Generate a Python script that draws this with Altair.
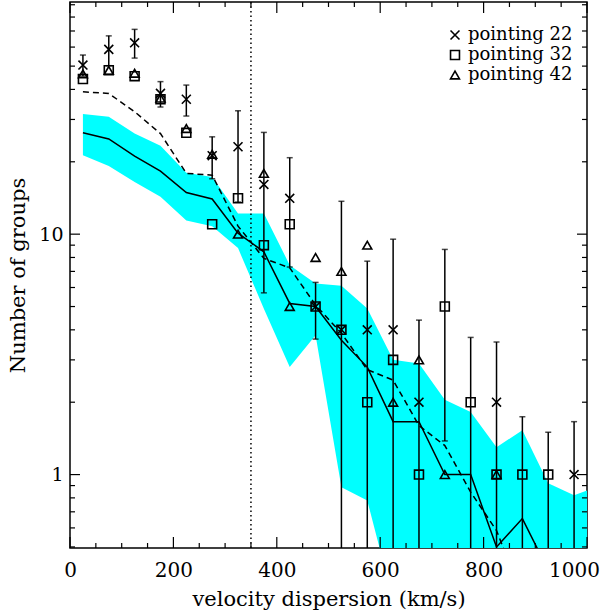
import altair as alt
import pandas as pd

# ---------------- data ----------------
bins = [25, 75, 125, 175, 225, 275, 325, 375, 425, 475,
        525, 575, 625, 675, 725, 775, 825, 875, 925, 975]

# pointing 22 (x markers)
p22_x = [25, 75, 125, 175, 225, 275, 325, 375, 425, 475, 525, 575, 625, 675, 825, 975]
p22_y = [50.5, 58.7, 62.5, 38.5, 36.4, 21.2, 23.1, 16.1, 14.1, 5, 4, 4, 4, 2, 2, 1]

# pointing 32 (squares)
p32_x = [25, 75, 125, 175, 225, 275, 325, 375, 425, 475, 525, 575, 625, 675, 725, 775, 825, 875, 925]
p32_y = [44.2, 48.1, 45.4, 36.4, 26.4, 11.0, 14.1, 9.0, 11.0, 5, 4, 2, 3, 1, 5, 2, 1, 1, 1]

# pointing 42 (triangles)
p42_x = [25, 75, 125, 175, 225, 275, 325, 375, 425, 475, 525, 575, 625, 675, 725, 825]
p42_y = [46.4, 48.0, 46.7, 36.8, 27.5, 21.5, 10.0, 17.9, 5.0, 8.0, 7.0, 9.0, 2.0, 3.0, 1.0, 1.0]

# error bars (one per bin)
err_lo = [45.4, 50.2, 54.0, 33.8, 31.0, 17.0, 13.6, 5.7, 7.3, 3.66,
          0.3, 0.3, 0.3, 0.3, 1.38, 0.3, 0.45, 0.3, 0.45, 0.34]
err_hi = [55.6, 66.8, 71.1, 43.1, 41.7, 25.4, 32.6, 26.5, 20.8, 6.3,
          13.7, 7.72, 9.53, 4.39, 8.64, 3.72, 3.56, 1.74, 1.50, 1.66]

# cyan band
band_x = bins + [1025]
band_hi = [31.6, 30.8, 26.2, 23.3, 18.0, 17.3, 12.2, 12.2, 7.43, 6.24,
           6.1, 4.91, 3.0, 2.9, 2.05, 1.82, 1.3, 1.53, 0.92, 0.82, 0.9]
band_lo = [21.3, 19.2, 16.5, 14.3, 11.4, 10.8, 8.75, 4.9, 2.8, 3.8,
           0.885, 0.78, 0.3, 0.3, 0.3, 0.3, 0.3, 0.3, 0.3, 0.3, 0.3]

# solid line
solid_x = bins[:19]
solid_y = [26.4, 24.9, 21.1, 18.3, 14.9, 14.0, 10.1, 8.44, 5.15, 5.0,
           3.62, 2.8, 1.66, 1.66, 1.0, 1.0, 0.5, 0.656, 0.40]

# dashed line
dashed_x = bins[:18]
dashed_y = [39.1, 38.5, 32.3, 26.2, 17.9, 17.6, 10.8, 7.93, 7.24, 5.07,
            3.87, 2.73, 2.47, 1.6, 1.32, 0.845, 0.585, 0.31]

vline_x = [350]

x_major = [0, 200, 400, 600, 800, 1000]
x_minor = [v for v in range(50, 1000, 50) if v % 200 != 0]
y_major = [1, 10]
y_minor = [0.5, 0.6, 0.7, 0.8, 0.9, 2, 3, 4, 5, 6, 7, 8, 9,
           20, 30, 40, 50, 60, 70, 80, 90]

series_names = ["pointing 22", "pointing 32", "pointing 42"]

# ---------------- chart ----------------
W, H = 517, 546
FONT = "DejaVu Serif"

xs = alt.Scale(domain=[0, 1000], nice=False, zero=False)
ys = alt.Scale(type="log", domain=[0.495, 92.4], nice=False)

XAX = alt.Axis(values=x_major, ticks=False, domain=False, grid=False,
               format="d", labelFont=FONT, labelFontSize=20,
               labelPadding=12, labelColor="black", labelFlush=False,
               labelOffset={"condition": {"test": "datum.value == 1000", "value": -13}, "value": 0},
               title="velocity dispersion (km/s)",
               titleFont=FONT, titleFontSize=21,
               titleFontWeight="normal", titleColor="black",
               titleY=51, titleBaseline="middle")
YAX = alt.Axis(values=y_major, ticks=False, domain=False, grid=False,
               format="~g", labelFont=FONT, labelFontSize=19,
               labelPadding=7, labelColor="black",
               title="Number of groups",
               titleFont=FONT, titleFontSize=21,
               titleFontWeight="normal", titleColor="black",
               titleAngle=270, titleX=-52, titleY=H / 2,
               titleBaseline="middle", titleAlign="center")


def XE(field="v"):
    return alt.X(field + ":Q", scale=xs, axis=XAX)


def YE(field="n"):
    return alt.Y(field + ":Q", scale=ys, axis=YAX)


pts = pd.DataFrame(
    [{"v": a, "n": b, "s": series_names[0]} for a, b in zip(p22_x, p22_y)]
    + [{"v": a, "n": b, "s": series_names[1]} for a, b in zip(p32_x, p32_y)]
    + [{"v": a, "n": b, "s": series_names[2]} for a, b in zip(p42_x, p42_y)]
)
err = pd.DataFrame({"v": bins, "lo": err_lo, "hi": err_hi})
band = pd.DataFrame({"v": band_x, "lo": band_lo, "hi": band_hi})
solid = pd.DataFrame({"v": solid_x, "n": solid_y})
dashed = pd.DataFrame({"v": dashed_x, "n": dashed_y})
vline = pd.DataFrame({"v": vline_x})

band_layer = alt.Chart(band).mark_area(color="#00FFFF", opacity=1, clip=True).encode(
    x=XE(), y=YE("lo"), y2="hi:Q")

vline_layer = alt.Chart(vline).mark_rule(color="black", strokeDash=[1.5, 3], strokeWidth=1.5).encode(
    x=XE())

dashed_layer = alt.Chart(dashed).mark_line(color="black", strokeWidth=1.5, strokeDash=[6, 4], clip=True).encode(
    x=XE(), y=YE())

solid_layer = alt.Chart(solid).mark_line(color="black", strokeWidth=1.5, clip=True).encode(
    x=XE(), y=YE())

err_layer = alt.Chart(err).mark_rule(color="black", strokeWidth=1.5, clip=True).encode(
    x=XE(), y=YE("lo"), y2="hi:Q")
cap_hi = alt.Chart(err).mark_tick(color="black", orient="horizontal", size=6, thickness=1.5, clip=True).encode(
    x=XE(), y=YE("hi"))
cap_lo = alt.Chart(err).mark_tick(color="black", orient="horizontal", size=6, thickness=1.5, clip=True).encode(
    x=XE(), y=YE("lo"))

shape_scale = alt.Scale(domain=series_names,
                        range=["M-1,-1L1,1M-1,1L1,-1", "square", "triangle-up"])
pt_layer = alt.Chart(pts).mark_point(filled=False, color="black", strokeWidth=1.6, size=80, opacity=1).encode(
    x=XE(), y=YE(),
    shape=alt.Shape("s:N", scale=shape_scale,
                    legend=alt.Legend(title=None, orient="none", legendX=376, legendY=24,
                                      labelFont=FONT, labelFontSize=18, labelColor="black",
                                      symbolStrokeColor="black", symbolStrokeWidth=1.6,
                                      symbolSize=80, symbolFillColor="transparent",
                                      labelOffset=4, rowPadding=2)))

# inward ticks (axis styling)
xmaj = pd.DataFrame({"v": x_major})
xmin = pd.DataFrame({"v": x_minor})
ymaj = pd.DataFrame({"n": y_major})
ymin = pd.DataFrame({"n": y_minor})


def xt(df, length, top):
    if top:
        return alt.Chart(df).mark_rule(color="black", strokeWidth=1.2).encode(
            x=XE(), y=alt.value(0), y2=alt.value(length))
    return alt.Chart(df).mark_rule(color="black", strokeWidth=1.2).encode(
        x=XE(), y=alt.value(H - length), y2=alt.value(H))


def yt(df, length, right):
    if right:
        return alt.Chart(df).mark_rule(color="black", strokeWidth=1.2).encode(
            y=YE(), x=alt.value(W - length), x2=alt.value(W))
    return alt.Chart(df).mark_rule(color="black", strokeWidth=1.2).encode(
        y=YE(), x=alt.value(0), x2=alt.value(length))


ticks = [xt(xmaj, 11, False), xt(xmin, 5, False), xt(xmaj, 11, True), xt(xmin, 5, True),
         yt(ymaj, 10, False), yt(ymin, 5, False), yt(ymaj, 10, True), yt(ymin, 5, True)]

chart = alt.layer(
    band_layer, vline_layer, dashed_layer, solid_layer,
    err_layer, cap_hi, cap_lo, pt_layer, *ticks
).properties(
    width=W, height=H,
    autosize=alt.AutoSizeParams(type="none"),
    padding={"left": 70, "top": 2, "right": 24, "bottom": 63},
    background="white",
).configure_view(
    stroke="black", strokeWidth=1.5
)

chart.save("out.html", embed_options={"renderer": "svg", "actions": False})
